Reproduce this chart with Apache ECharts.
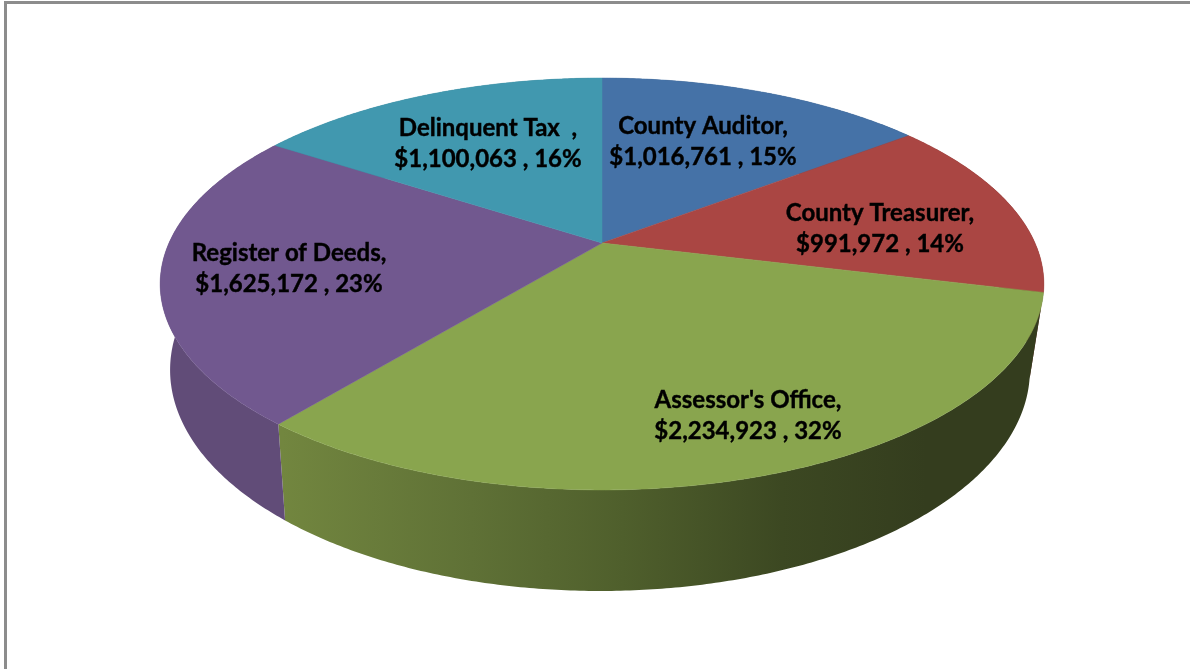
<!DOCTYPE html>
<html>
<head>
<meta charset="utf-8">
<style>html,body{margin:0;padding:0;background:#fff}#c{width:1190px;height:669px}</style>
<script src="https://cdn.jsdelivr.net/npm/echarts@6/dist/echarts.min.js"></script>
</head>
<body>
<div id="c"></div>
<script>
// Data, clockwise from twelve o'clock
const categories = ["County Auditor", "County Treasurer", "Assessor's Office", "Register of Deeds", "Delinquent Tax  "];
const budgets = [1016761, 991972, 2234923, 1625172, 1100063];

// Styles
const topColors = ["#4572a7", "#aa4643", "#89a54e", "#71588f", "#4198af"];
const wallStops = [
  [[0, "#35588a"], [1, "#253d60"]],
  [[0, "#7d3230"], [1, "#6a2a28"]],
  [[0, "#72863f"], [0.25, "#5f7136"], [0.45, "#4f5f2c"], [0.66, "#3c4822"], [0.85, "#343d1e"], [1, "#343d1e"]],
  [[0, "#614c78"], [1, "#5a456f"]],
  [[0, "#2f7488"], [1, "#2a6578"]]
];
// Layout: projection of the pie disc and label centres
const disc = { cx: 602, cy: 243, rx: 433, ry: 197.8, persp: 0.199, midY: 284 };
const base = { cx: 600, cy: 370, sx: 0.973, sy: 1.073 };
const labelCentres = [[703, 142], [880, 229], [748, 416], [289, 269], [488, 144]];

const total = budgets.reduce((a, b) => a + b, 0);
const shares = budgets.map(v => v / total);
const starts = shares.map((_, i) => shares.slice(0, i).reduce((a, b) => a + b, 0));

function topPoint(t) {
  const a = t * 2 * Math.PI, X = Math.sin(a), Y = Math.cos(a), w = 1 + disc.persp * Y;
  return [disc.cx + disc.rx * X / w, disc.cy - disc.ry * Y / w];
}
function basePoint(t) {
  const p = topPoint(t);
  return [base.cx + (p[0] - disc.cx) * base.sx, base.cy + (p[1] - disc.midY) * base.sy];
}
function arc(fn, i) {
  const n = Math.max(8, Math.ceil(shares[i] * 720)), out = [];
  for (let k = 0; k <= n; k++) out.push(fn(starts[i] + shares[i] * k / n));
  return out;
}
function labelOf(i) {
  return categories[i] + ",\n$" + budgets[i].toLocaleString("en-US") + " , " + Math.round(shares[i] * 100) + "%";
}
function wallFill(i) {
  const stops = wallStops[i].map(s => ({ offset: s[0], color: s[1] }));
  return new echarts.graphic.LinearGradient(282, 0, 1040, 0, stops, true);
}

const chart = echarts.init(document.getElementById("c"), null, { renderer: "canvas" });
chart.setOption({
  animation: false,
  backgroundColor: "#ffffff",
  graphic: [
    { type: "rect", silent: true, shape: { x: 4, y: 1, width: 1186, height: 3 }, style: { fill: "#8c8c8c" } },
    { type: "rect", silent: true, shape: { x: 4, y: 1, width: 3, height: 668 }, style: { fill: "#8c8c8c" } }
  ],
  series: [
    {
      type: "custom",
      coordinateSystem: "none",
      silent: true,
      z: 1,
      data: budgets,
      renderItem(params) {
        const i = params.dataIndex;
        const top = arc(topPoint, i), bottom = arc(basePoint, i).reverse();
        return {
          type: "polygon",
          shape: { points: top.concat(bottom) },
          style: { fill: wallFill(i), stroke: null }
        };
      }
    },
    {
      type: "custom",
      coordinateSystem: "none",
      silent: true,
      z: 2,
      data: budgets,
      renderItem(params) {
        const i = params.dataIndex;
        const a = arc(topPoint, i);
        a.push([disc.cx, disc.cy]);
        return {
          type: "polygon",
          shape: { points: a },
          style: { fill: topColors[i], stroke: topColors[i], lineWidth: 0.5 }
        };
      }
    },
    {
      type: "custom",
      coordinateSystem: "none",
      silent: true,
      z: 3,
      data: budgets,
      renderItem(params) {
        const i = params.dataIndex;
        return {
          type: "text",
          style: {
            text: labelOf(i),
            x: labelCentres[i][0],
            y: labelCentres[i][1],
            align: "center",
            verticalAlign: "middle",
            font: "bold 24px Lato",
            lineHeight: 31,
            fill: "#000000",
            stroke: "#000000",
            lineWidth: 0.4
          }
        };
      }
    }
  ]
});
</script>
</body>
</html>
